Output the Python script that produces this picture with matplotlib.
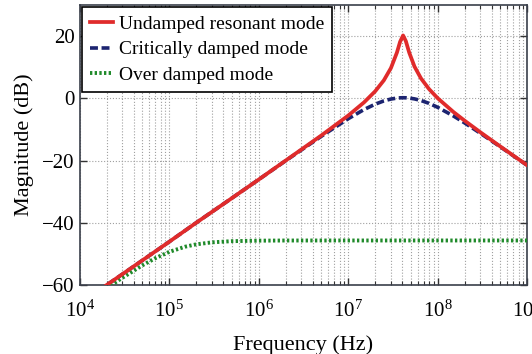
import matplotlib
matplotlib.use("Agg")
import matplotlib.pyplot as plt
from matplotlib.ticker import LogLocator, FixedLocator, NullFormatter, LogFormatterMathtext

plt.rcParams['font.family'] = ['Liberation Serif', 'DejaVu Serif']
plt.rcParams['mathtext.fontset'] = 'custom'
plt.rcParams['mathtext.rm'] = 'Liberation Serif'
plt.rcParams['mathtext.it'] = 'Liberation Serif:italic'

# Frequencies (Hz) and magnitudes (dB)
freq_res = [1e4, 2e4, 5e4, 1e5, 2e5, 5e5, 1e6, 2e6, 5e6, 1e7, 1.5e7, 2e7, 2.5e7, 3e7,
            3.5e7, 3.8e7, 4.1e7, 4.4e7, 4.8e7, 5.5e7, 6.5e7, 8e7, 1e8, 1.5e8, 2e8,
            3e8, 5e8, 1e9]
undamped = [-66.1, -60.0, -52.1, -46.1, -40.0, -32.1, -26.1, -20.0, -11.95, -5.54,
            -1.32, 2.26, 5.78, 9.73, 14.71, 18.2, 20.2, 18.4, 14.7, 10.2, 6.4,
            2.96, 0.01, -4.41, -7.2, -10.93, -15.47, -21.53]
critical = [-66.1, -60.0, -52.1, -46.1, -40.0, -32.1, -26.1, -20.06, -12.21, -6.56,
            -3.62, -1.89, -0.84, -0.24, 0.07, 0.15, 0.18, 0.16, 0.07, -0.19, -0.71,
            -1.63, -2.9, -5.69, -7.92, -11.25, -15.58, -21.56]

freq_over = [1e4, 2e4, 3e4, 5e4, 7e4, 1e5, 1.5e5, 2e5, 3e5, 5e5, 1e6, 2e6, 1e7,
             1e8, 1e9]
overdamped = [-66.95, -61.02, -57.66, -53.69, -51.38, -49.36, -47.71, -46.94,
              -46.3, -45.92, -45.76, -45.71, -45.7, -45.7, -45.7]

labels = ['Undamped resonant mode', 'Critically damped mode', 'Over damped mode']
y_ticks = [-60, -40, -20, 0, 20]

fig = plt.figure(figsize=(5.32, 3.54), dpi=100)
ax = fig.add_axes([0.150, 0.195, 0.841, 0.791])

ax.plot(freq_res, undamped, color='#e02b2b', lw=2.7, label=labels[0], zorder=4)
ax.plot(freq_res, critical, color='#1c2470', lw=2.6, ls=(0, (2.2, 1.0)), label=labels[1], zorder=3)
ax.plot(freq_over, overdamped, color='#1f8a2a', lw=2.8, ls=(0, (0.6, 0.6)), label=labels[2], zorder=3)

ax.set_xscale('log')
ax.set_xlim(1e4, 1e9)
ax.set_ylim(-60, 30)
ax.xaxis.set_major_locator(LogLocator(base=10, numticks=10))
ax.xaxis.set_minor_locator(LogLocator(base=10, subs=range(2, 10), numticks=100))
ax.xaxis.set_major_formatter(LogFormatterMathtext())
ax.xaxis.set_minor_formatter(NullFormatter())
ax.yaxis.set_major_locator(FixedLocator(y_ticks))

ax.grid(True, which='major', axis='both', ls=':', color='#a0a0a0', lw=0.8)
ax.grid(True, which='minor', axis='x', ls=':', color='#a0a0a0', lw=0.8)

ax.tick_params(which='both', direction='in', top=True, right=True, colors='#333333',
               labelcolor='black', labelsize=15)
ax.tick_params(which='major', length=5, width=1)
ax.tick_params(which='minor', length=3, width=0.8)
ax.tick_params(axis='x', pad=11)
for s in ax.spines.values():
    s.set_color('#3a3f4a')
    s.set_linewidth(1.2)

ax.set_xlabel('Frequency (Hz)', fontsize=16, labelpad=10)
ax.set_ylabel('Magnitude (dB)', fontsize=16, labelpad=6)

leg = ax.legend(loc='upper left', fontsize=14, frameon=True, fancybox=False,
                handlelength=1.2, handletextpad=0.3, borderpad=0.4, labelspacing=0.42,
                borderaxespad=0.12)
leg.get_frame().set_edgecolor('black')
leg.get_frame().set_linewidth(1.2)
leg.get_frame().set_alpha(1)

fig.savefig('out.png', dpi=100)
